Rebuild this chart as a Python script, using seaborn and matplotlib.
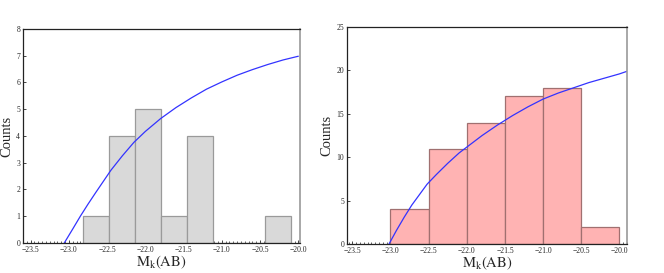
import numpy as np
import pandas as pd
import matplotlib
matplotlib.use('Agg')
import matplotlib.pyplot as plt
import seaborn as sns
from matplotlib.ticker import MultipleLocator

# histogram data
left_edges = [-22.82, -22.48, -22.14, -21.79, -21.45, -21.11, -20.77, -20.43, -20.09]
left_counts = [1, 4, 5, 1, 4, 0, 0, 1]

right_edges = [-23.0, -22.5, -22.0, -21.5, -21.0, -20.5, -20.0]
right_counts = [4, 11, 14, 17, 18, 2]

# model curves
left_curve_x = [-23.06, -22.95, -22.85, -22.75, -22.65, -22.55, -22.45, -22.3, -22.15, -22.0,
                -21.8, -21.6, -21.4, -21.2, -21.0, -20.8, -20.6, -20.4, -20.2, -20.0]
left_curve_y = [0.0, 0.52, 1.0, 1.45, 1.88, 2.3, 2.72, 3.26, 3.76, 4.17,
                4.65, 5.06, 5.42, 5.75, 6.02, 6.27, 6.48, 6.67, 6.84, 6.98]

right_curve_x = [-23.02, -22.92, -22.82, -22.72, -22.62, -22.52, -22.4, -22.25, -22.1, -21.95,
                 -21.8, -21.6, -21.4, -21.2, -21.0, -20.8, -20.6, -20.4, -20.2, -20.0, -19.9]
right_curve_y = [0.0, 1.6, 3.1, 4.5, 5.7, 6.9, 8.0, 9.3, 10.5, 11.5,
                 12.5, 13.7, 14.8, 15.8, 16.7, 17.4, 18.0, 18.6, 19.1, 19.6, 19.9]

sns.set_style('ticks')
plt.rcParams['font.family'] = ['Liberation Serif', 'DejaVu Serif']
plt.rcParams['mathtext.fontset'] = 'stix'

fig = plt.figure(figsize=(6.64, 2.73), dpi=100)
ax1 = fig.add_axes([0.0346, 0.110, 0.417, 0.784])
ax2 = fig.add_axes([0.5226, 0.106, 0.4217, 0.795])


def draw(ax, edges, counts, cx, cy, face, edge, xlim, ylim, ystep):
    centers = [(a + b) / 2 for a, b in zip(edges[:-1], edges[1:])]
    df = pd.DataFrame({'mag': centers, 'n': counts})
    sns.histplot(data=df, x='mag', weights='n', bins=edges, ax=ax,
                 color=face, edgecolor=edge, linewidth=0.9, alpha=1.0)
    sns.lineplot(x=cx, y=cy, ax=ax, color='#3333ff', linewidth=0.9, sort=False)
    ax.set_xlim(*xlim)
    ax.set_ylim(*ylim)
    ax.xaxis.set_major_locator(MultipleLocator(0.5))
    ax.xaxis.set_minor_locator(MultipleLocator(0.05))
    ax.yaxis.set_major_locator(MultipleLocator(ystep))
    ax.tick_params(axis='both', which='major', direction='in', length=2.5,
                   width=0.6, labelsize=5.5, pad=2)
    ax.tick_params(axis='x', which='minor', direction='in', length=1.5, width=0.5)
    ax.set_xticklabels([f'\u2212{abs(t):.1f}' for t in ax.get_xticks()])
    ax.set_xlabel(r'$\mathrm{M_k(AB)}$', fontsize=10.5, labelpad=0)
    ax.set_ylabel('Counts', fontsize=10.5, labelpad=2)
    for s in ['top', 'left', 'bottom']:
        ax.spines[s].set_color('#222222')
        ax.spines[s].set_linewidth(0.9)
    ax.spines['right'].set_color('#999999')
    ax.spines['right'].set_linewidth(1.2)


draw(ax1, left_edges, left_counts, left_curve_x, left_curve_y,
     '#d9d9d9', '#9a9a9a', (-23.6, -19.98), (0, 8), 1)
draw(ax2, right_edges, right_counts, right_curve_x, right_curve_y,
     '#ffb3b3', '#a07070', (-23.57, -19.9), (0, 25), 5)

fig.savefig('out.png', dpi=100)
